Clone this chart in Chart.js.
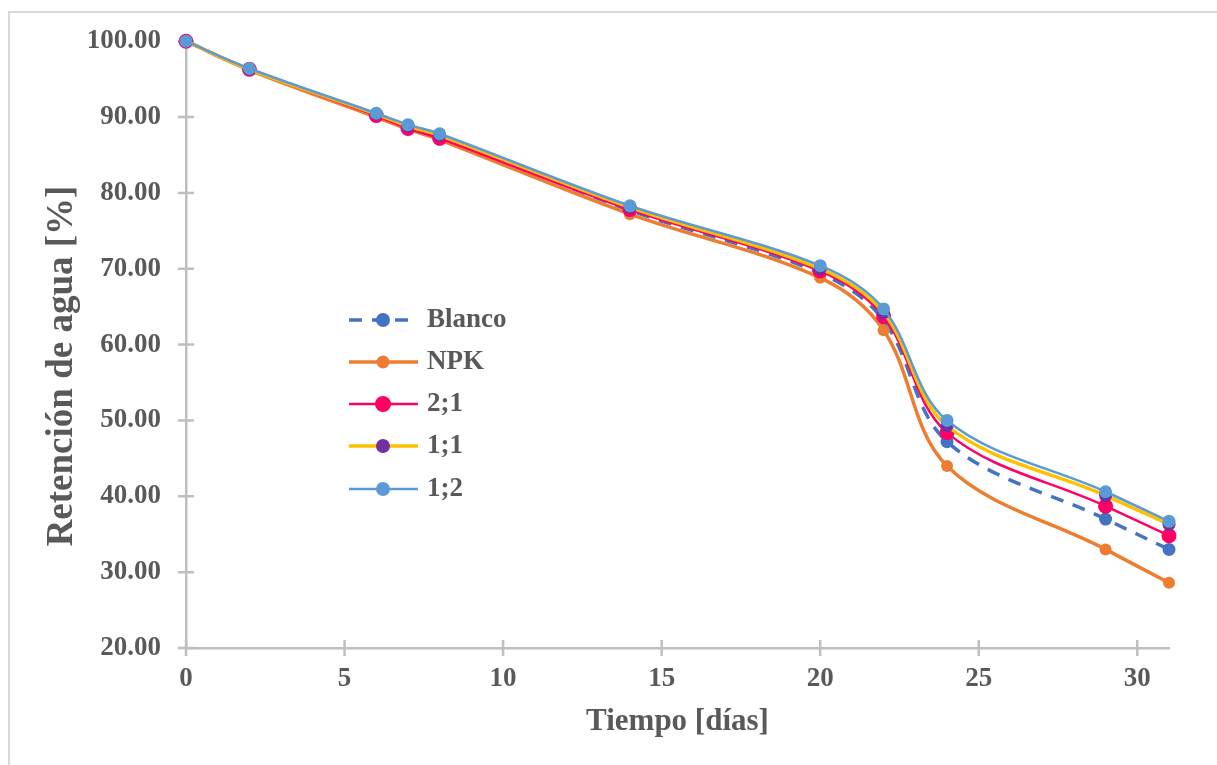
<!DOCTYPE html>
<html><head><meta charset="utf-8">
<script src="https://cdn.jsdelivr.net/npm/chart.js@4.4.1/dist/chart.umd.min.js"></script>
<style>
html,body{margin:0;padding:0;background:#fff;}
#wrap{position:relative;width:1217px;height:765px;overflow:hidden;}
#frame{position:absolute;left:8px;top:11px;width:1300px;height:900px;border-left:2px solid #d9d9d9;border-top:2px solid #d9d9d9;pointer-events:none}
canvas{position:absolute;left:0;top:0}
</style></head><body>
<div id="wrap"><div id="frame"></div><canvas id="c" width="1217" height="765"></canvas></div>
<script>
const dias   = [0, 2, 6, 7, 8, 14, 20, 22, 24, 29, 31];
const blanco = [100, 96.3, 90.3, 88.7, 87.5, 77.7, 69.4, 63.2, 47.2, 37.0, 33.0];
const npk    = [100, 96.2, 90.0, 88.4, 87.0, 77.2, 68.8, 61.9, 44.0, 33.0, 28.6];
const r21    = [100, 96.3, 90.2, 88.5, 87.2, 77.8, 69.7, 63.7, 48.4, 38.7, 34.8];
const r11    = [100, 96.3, 90.4, 88.8, 87.6, 78.1, 70.0, 64.2, 49.3, 40.1, 36.3];
const r12    = [100, 96.4, 90.5, 89.0, 87.8, 78.3, 70.4, 64.7, 50.0, 40.6, 36.7];
const seriesNames = ['Blanco', 'NPK', '2;1', '1;1', '1;2'];
const xTicks = [0, 5, 10, 15, 20, 25, 30];
const yTicks = [20, 30, 40, 50, 60, 70, 80, 90, 100];
const xTitle = 'Tiempo [días]';
const yTitle = 'Retención de agua [%]';

const TXT = '#595959';
const AX = '#bfbfbf';
const FONT = 'Liberation Serif';

function pts(arr){ return dias.map((d,i)=>({x:d, y:arr[i]})); }

const styles = [
  {data: blanco, line:'#4472C4', mk:'#4472C4', w:3.5, r:6.5, dash:[13,10], order:5},
  {data: npk,    line:'#ED7D31', mk:'#ED7D31', w:3.5, r:6,   dash:[],      order:4},
  {data: r21,    line:'#FF0066', mk:'#FF0066', w:2.5, r:7.5, dash:[],      order:3},
  {data: r11,    line:'#FFC000', mk:'#7030A0', w:3.5, r:6.5, dash:[],      order:2},
  {data: r12,    line:'#5B9BD5', mk:'#5B9BD5', w:2.5, r:6.5, dash:[],      order:1}
];

const datasets = styles.map((s,i)=>({
  label: seriesNames[i],
  data: pts(s.data),
  borderColor: s.line,
  backgroundColor: s.mk,
  pointBackgroundColor: s.mk,
  pointBorderColor: s.mk,
  pointBorderWidth: 0,
  pointRadius: s.r,
  pointHoverRadius: s.r,
  borderWidth: s.w,
  borderDash: s.dash,
  tension: 0.35,
  order: s.order,
  clip: false,
  fill: false
}));

const crossTicks = {
  id: 'crossTicks',
  beforeDatasetsDraw(chart){
    const ctx = chart.ctx, xs = chart.scales.x, ys = chart.scales.y;
    const x0 = xs.getPixelForValue(0), yb = ys.getPixelForValue(20);
    ctx.save();
    ctx.strokeStyle = AX; ctx.lineWidth = 2.5;
    ctx.beginPath();
    yTicks.forEach(v=>{ const y = ys.getPixelForValue(v); ctx.moveTo(x0-8, y); ctx.lineTo(x0+8, y); });
    xTicks.forEach(v=>{ const x = xs.getPixelForValue(v); ctx.moveTo(x, yb-8); ctx.lineTo(x, yb+8); });
    ctx.stroke();
    // y-axis title
    ctx.fillStyle = TXT;
    ctx.font = 'bold 37px "' + FONT + '"';
    ctx.textAlign = 'center'; ctx.textBaseline = 'middle';
    ctx.translate(62, 366);
    ctx.rotate(-Math.PI/2);
    ctx.fillText(yTitle, 0, 0);
    ctx.restore();
  }
};

const legendPlugin = {
  id: 'innerLegend',
  afterDatasetsDraw(chart){
    const ctx = chart.ctx;
    const x1 = 349, x2 = 418, xm = 383, xt = 427;
    const rows = [320, 362, 404, 446, 489];
    ctx.save();
    chart.data.datasets.forEach((ds,i)=>{
      const y = rows[i];
      ctx.strokeStyle = ds.borderColor; ctx.lineWidth = ds.borderWidth;
      ctx.setLineDash(ds.borderDash || []);
      ctx.beginPath(); ctx.moveTo(x1, y); ctx.lineTo(x2, y); ctx.stroke();
      ctx.setLineDash([]);
      ctx.fillStyle = ds.pointBackgroundColor;
      ctx.beginPath(); ctx.arc(xm, y, ds.pointRadius+0.5, 0, Math.PI*2); ctx.fill();
      ctx.fillStyle = TXT;
      ctx.font = 'bold 27px "' + FONT + '"';
      ctx.textBaseline = 'middle'; ctx.textAlign = 'left';
      ctx.fillText(ds.label, xt, y);
    });
    ctx.restore();
  }
};

new Chart(document.getElementById('c'), {
  type: 'line',
  data: { datasets },
  plugins: [crossTicks, legendPlugin],
  options: {
    responsive: false,
    devicePixelRatio: 1,
    animation: false,
    events: [],
    layout: { padding: { left: 0, top: 41, right: 48, bottom: 0 } },
    plugins: { legend: { display: false }, tooltip: { enabled: false } },
    scales: {
      x: {
        type: 'linear', min: 0, max: 31,
        afterBuildTicks: s => { s.ticks = xTicks.map(v=>({value:v})); },
        afterFit: s => { s.height = 117; },
        grid: { display: false, drawTicks: false },
        border: { display: true, color: AX, width: 2.5 },
        ticks: { color: TXT, padding: 15, font: { family: FONT, size: 27, weight: 'bold' }, callback: v => String(v), autoSkip: false, maxRotation: 0 },
        title: { display: true, text: xTitle, color: TXT, font: { family: FONT, size: 31, weight: 'bold' }, padding: { top: 0, bottom: 24 } }
      },
      y: {
        type: 'linear', min: 20, max: 100,
        afterBuildTicks: s => { s.ticks = yTicks.map(v=>({value:v})); },
        afterFit: s => { s.width = 186; },
        grid: { display: false, drawTicks: false },
        border: { display: true, color: AX, width: 2.5 },
        ticks: { color: TXT, padding: 25, font: { family: FONT, size: 27, weight: 'bold' }, callback: v => Number(v).toFixed(2) },
        title: { display: false }
      }
    }
  }
});
</script>
</body></html>
